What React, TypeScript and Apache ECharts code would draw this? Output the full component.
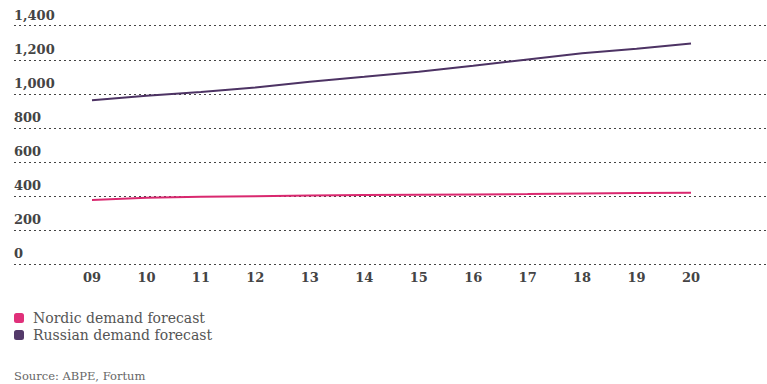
import React, { useEffect, useRef } from "react";
import * as echarts from "echarts";

const years = ["09", "10", "11", "12", "13", "14", "15", "16", "17", "18", "19", "20"];
const nordic = [377, 391, 396, 400, 403, 406, 408, 410, 412, 415, 418, 420];
const russian = [962, 989, 1011, 1038, 1071, 1100, 1130, 1165, 1202, 1238, 1265, 1296];
const seriesNames = ["Nordic demand forecast", "Russian demand forecast"];
const seriesColors = ["#d9286f", "#4d3364"];
const legendColors = ["#e0307a", "#543a6a"];
const sourceText = "Source: ABPE, Fortum";

const SERIF = "'DejaVu Serif', Georgia, serif";

export default function App() {
  const ref = useRef<HTMLDivElement>(null);
  useEffect(() => {
    if (!ref.current) return;
    const chart = echarts.init(ref.current, null, { renderer: "svg" });
    const top = 25.7;
    const bottom = 119.7;
    chart.setOption({
      animation: false,
      backgroundColor: "#ffffff",
      grid: [
        { left: 14, right: 0, top, bottom, containLabel: false },
        { left: 92, right: 76, top, bottom, containLabel: false },
      ],
      xAxis: [
        { type: "value", gridIndex: 0, min: 0, max: 1, show: false },
        {
          type: "category",
          gridIndex: 1,
          data: years,
          boundaryGap: false,
          axisLine: { show: false },
          axisTick: { show: false },
          splitLine: { show: false },
          axisLabel: {
            margin: 7,
            fontFamily: SERIF,
            fontWeight: "bold",
            fontSize: 13,
            color: "#444444",
          },
        },
      ],
      yAxis: [
        {
          type: "value",
          gridIndex: 0,
          min: 0,
          max: 1400,
          interval: 200,
          axisLine: { show: false },
          axisTick: { show: false },
          splitLine: { show: true, lineStyle: { color: "#444444", type: [2, 3], width: 1 } },
          axisLabel: {
            inside: true,
            margin: 0,
            verticalAlign: "bottom",
            padding: [0, 0, 4, 0],
            fontFamily: SERIF,
            fontWeight: "bold",
            fontSize: 13,
            color: "#444444",
            formatter: (v: number) => v.toLocaleString("en-US"),
          },
        },
        {
          type: "value",
          gridIndex: 1,
          min: 0,
          max: 1400,
          interval: 200,
          show: false,
        },
      ],
      legend: {
        orient: "vertical",
        left: 14,
        top: 310,
        padding: 0,
        itemWidth: 10,
        itemHeight: 10,
        itemGap: 1,
        icon: "roundRect",
        textStyle: {
          fontFamily: SERIF,
          fontSize: 14,
          color: "#555555",
          padding: [0, 0, 0, 4],
          lineHeight: 16,
        },
        data: seriesNames.map((n, i) => ({ name: n, itemStyle: { color: legendColors[i] } })),
      },
      graphic: [
        {
          type: "text",
          left: 14,
          top: 370,
          style: {
            text: sourceText,
            fontFamily: SERIF,
            fontSize: 11.5,
            fill: "#666666",
          },
        },
      ],
      series: [
        {
          name: seriesNames[0],
          type: "line",
          xAxisIndex: 1,
          yAxisIndex: 1,
          data: nordic,
          showSymbol: false,
          symbol: "none",
          lineStyle: { color: seriesColors[0], width: 2 },
          itemStyle: { color: seriesColors[0] },
        },
        {
          name: seriesNames[1],
          type: "line",
          xAxisIndex: 1,
          yAxisIndex: 1,
          data: russian,
          showSymbol: false,
          symbol: "none",
          lineStyle: { color: seriesColors[1], width: 2 },
          itemStyle: { color: seriesColors[1] },
        },
      ],
    });
    return () => chart.dispose();
  }, []);
  return (
    <div
      ref={ref}
      style={{ position: "fixed", left: 0, top: 0, width: 767, height: 384 }}
    />
  );
}
